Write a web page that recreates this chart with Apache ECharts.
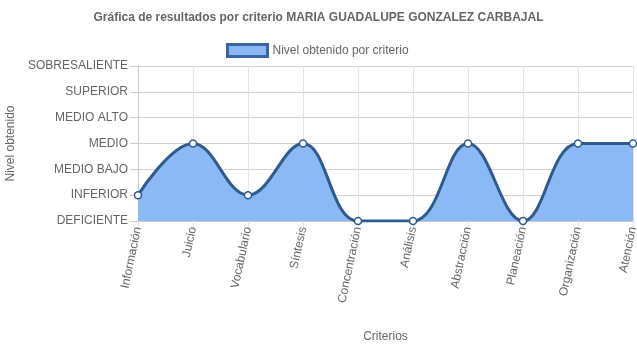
<!DOCTYPE html>
<html>
<head>
<meta charset="utf-8">
<script src="https://cdn.jsdelivr.net/npm/echarts@6/dist/echarts.min.js"></script>
<style>
  html, body { margin: 0; padding: 0; background: #fff; }
  #chart { width: 637px; height: 348px; }
</style>
</head>
<body>
<div id="chart"></div>
<script>
// Achievement levels, lowest first (value index = level)
const niveles = ['DEFICIENTE', 'INFERIOR', 'MEDIO BAJO', 'MEDIO', 'MEDIO ALTO', 'SUPERIOR', 'SOBRESALIENTE'];
// Evaluated criteria
const criterios = ['Información', 'Juicio', 'Vocabulario', 'Síntesis', 'Concentración', 'Análisis', 'Abstracción', 'Planeación', 'Organización', 'Atención'];
// Level reached for each criterion (index into niveles)
const nivelObtenido = [1, 3, 1, 3, 0, 0, 3, 0, 3, 3];

const textColor = '#666';
const fontFamily = '"Liberation Sans", Arial, sans-serif';

const chart = echarts.init(document.getElementById('chart'), null, { renderer: 'canvas' });

chart.setOption({
  animation: false,
  title: {
    text: 'Gráfica de resultados por criterio MARIA GUADALUPE GONZALEZ CARBAJAL',
    left: 'center',
    top: 7,
    textStyle: { color: textColor, fontSize: 12, fontWeight: 'bold', fontFamily: fontFamily }
  },
  legend: {
    top: 38,
    left: 221,
    itemWidth: 40,
    itemHeight: 12,
    itemGap: 6,
    textStyle: { color: textColor, fontSize: 12, fontFamily: fontFamily },
    data: [{
      name: 'Nivel obtenido por criterio',
      icon: 'rect',
      itemStyle: { color: '#8ab8f5', borderColor: '#3a67a3', borderWidth: 3 }
    }]
  },
  grid: { left: 138, right: 4, top: 66, bottom: 127, containLabel: false, outerBoundsMode: 'none' },
  xAxis: {
    type: 'category',
    data: criterios,
    boundaryGap: false,
    name: 'Criterios',
    nameLocation: 'middle',
    nameGap: 110,
    nameTextStyle: { color: textColor, fontSize: 12, fontFamily: fontFamily },
    axisLine: { show: true, lineStyle: { color: '#c8c8c8', width: 1 } },
    axisTick: { show: true, length: 7, lineStyle: { color: '#e2e2e2' } },
    axisLabel: { color: textColor, fontSize: 12, fontFamily: fontFamily, rotate: 78, margin: 6, interval: 0 },
    splitLine: { show: true, lineStyle: { color: '#e6e6e6', width: 1 } }
  },
  yAxis: {
    type: 'value',
    min: 0,
    max: 6,
    interval: 1,
    name: 'Nivel obtenido',
    nameLocation: 'middle',
    nameGap: 119,
    nameRotate: 90,
    nameTextStyle: { color: textColor, fontSize: 12, fontFamily: fontFamily },
    axisLine: { show: true, lineStyle: { color: '#c8c8c8', width: 1 } },
    axisTick: { show: true, length: 8, lineStyle: { color: '#c8c8c8' } },
    axisLabel: {
      color: textColor, fontSize: 12, fontFamily: fontFamily, margin: 10,
      formatter: function (v) { return niveles[v] || ''; }
    },
    splitLine: { show: true, lineStyle: { color: '#d2d2d2', width: 1 } }
  },
  series: [{
    name: 'Nivel obtenido por criterio',
    type: 'line',
    data: nivelObtenido,
    smooth: 0.4,
    clip: true,
    symbol: 'circle',
    symbolSize: 7,
    itemStyle: { color: '#ffffff', borderColor: '#2e5a8f', borderWidth: 1.5 },
    lineStyle: { color: '#2e5a8f', width: 3 },
    areaStyle: { color: '#8ab9f5', opacity: 1 },
    z: 3
  }]
});
</script>
</body>
</html>
